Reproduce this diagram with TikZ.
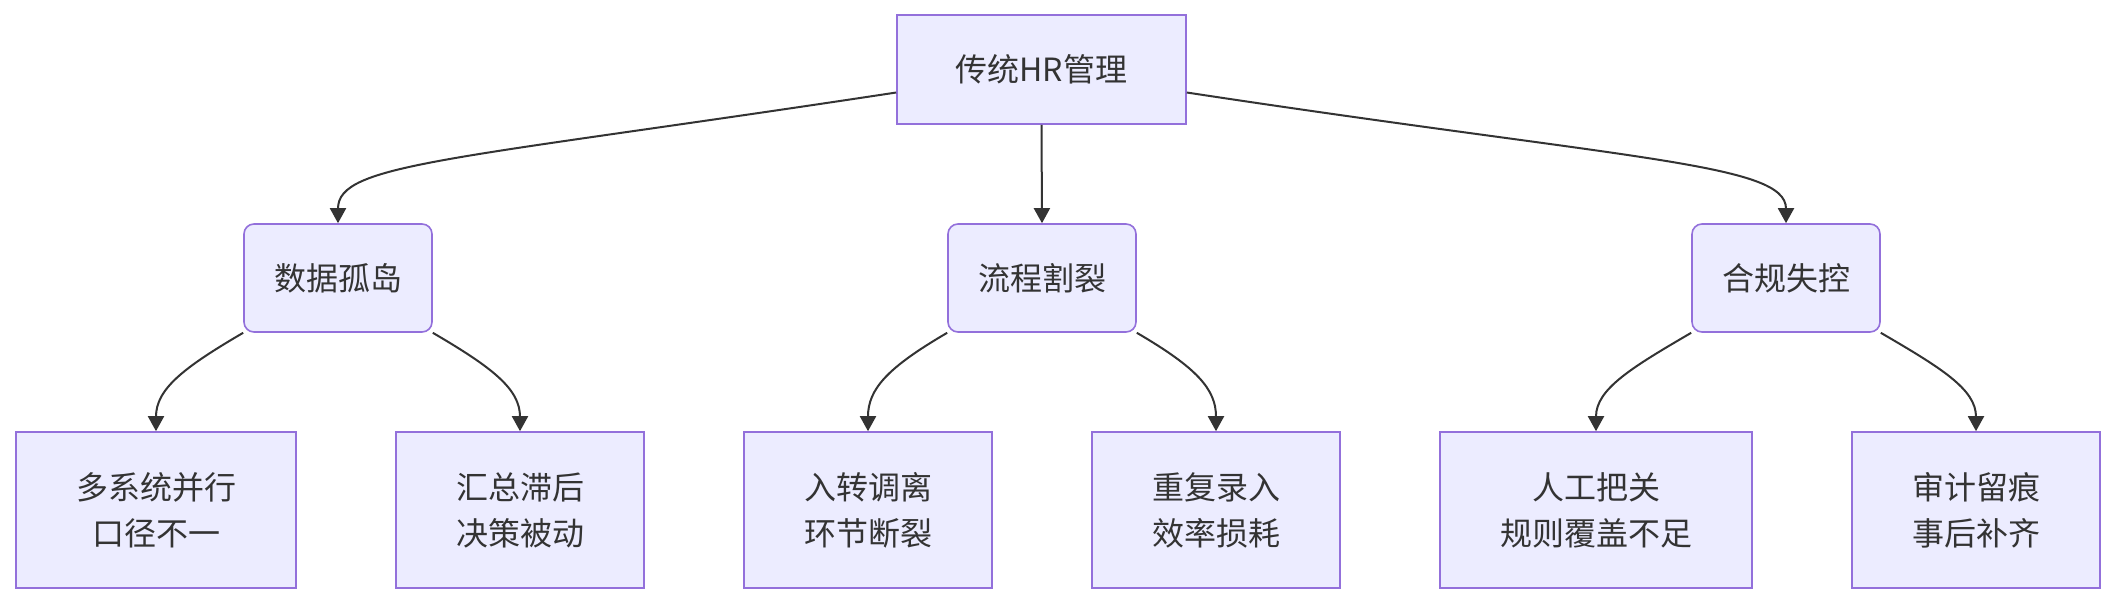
\documentclass[tikz,border=0pt]{standalone}
\usepackage{fontspec}
\setmainfont{Noto Sans CJK SC}
\usetikzlibrary{arrows.meta}
\definecolor{boxfill}{HTML}{ECECFF}
\definecolor{boxline}{HTML}{9370DB}
\definecolor{ink}{HTML}{333333}
\begin{document}
\begin{tikzpicture}[x=0.5pt,y=-0.5pt, every node/.style={font=\fontsize{16}{23}\selectfont, text=ink},
  topbox/.style={draw=boxline, fill=boxfill, line width=0.8pt, minimum width=144.5pt, minimum height=54.5pt},
  midbox/.style={topbox, rounded corners=5pt, minimum width=94pt, minimum height=54pt},
  leafbox/.style={topbox, align=center, minimum height=78pt},
  link/.style={draw=ink, line width=1pt, -{Triangle[length=7.5pt,width=8pt]}}]
 \useasboundingbox (0,0) rectangle (2116,604);
 \node[topbox] (hr) at (1041.5,69.5) {传统HR管理};
 \foreach \n/\x/\t in {data/338/数据孤岛, flow/1042/流程割裂, comp/1786/合规失控}
   \node[midbox] (\n) at (\x,278) {\t};
 \foreach \n/\x/\w/\t in {a1/156/140pt/{多系统并行\\口径不一}, a2/520/124pt/{汇总滞后\\决策被动},
   b1/868/124pt/{入转调离\\环节断裂}, b2/1216/124pt/{重复录入\\效率损耗},
   c1/1596/156pt/{人工把关\\规则覆盖不足}, c2/1976/124pt/{审计留痕\\事后补齐}}
   \node[leafbox, minimum width=\w] (\n) at (\x,510) {\t};
 \draw[link] (hr.189) .. controls +(-447,68) and +(0,-60) .. (data.north);
 \draw[link] (hr.south) -- (flow.north);
 \draw[link] (hr.-9) .. controls +(447,68) and +(0,-60) .. (comp.north);
 \foreach \p/\l/\r in {data/a1/a2, flow/b1/b2, comp/c1/c2} {
   \draw[link] (\p.south west) .. controls +(-60,35) and +(0,-42) .. (\l.north);
   \draw[link] (\p.south east) .. controls +(60,35) and +(0,-42) .. (\r.north);
 }
\end{tikzpicture}
\end{document}
